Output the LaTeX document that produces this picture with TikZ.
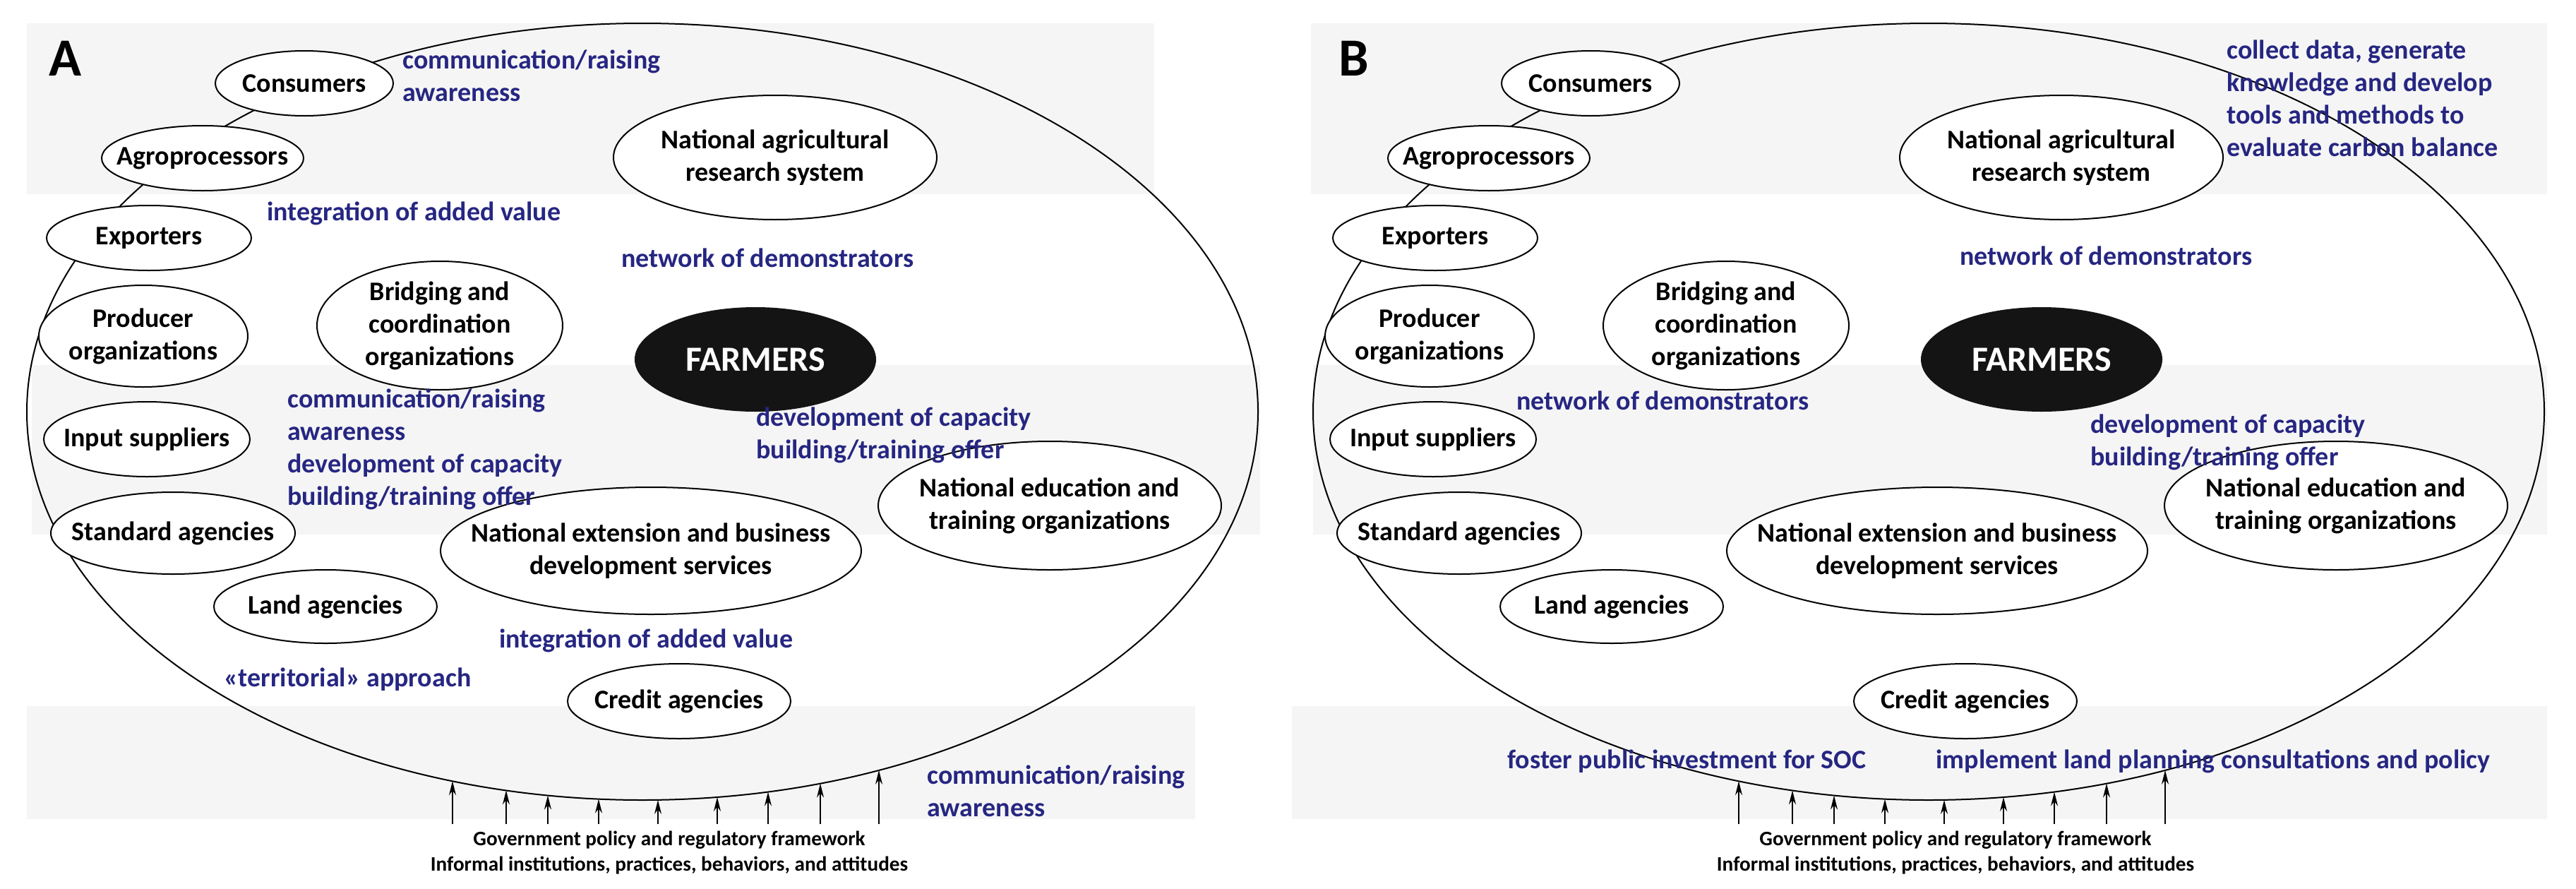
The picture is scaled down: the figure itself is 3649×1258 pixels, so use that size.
\documentclass[tikz,border=0pt]{standalone}
\usepackage{fontspec}
\setmainfont{Carlito}
\usetikzlibrary{shapes.geometric,arrows.meta}
\definecolor{bandgray}{RGB}{245,245,245}
\definecolor{navy}{RGB}{38,38,130}
\definecolor{farmfill}{RGB}{20,20,20}
\newcommand\blk[1]{\begin{tabular}[t]{@{}l@{}}#1\end{tabular}}
\newcommand\ctr[1]{\begin{tabular}[t]{@{}c@{}}#1\end{tabular}}
\tikzset{
  org/.style={ellipse, draw, fill=white, line width=1pt, inner sep=0pt},
  otxt/.style={font=\bfseries\fontsize{19}{23}\selectfont, align=center, inner sep=0pt},
  role/.style={font=\bfseries\fontsize{19}{23}\selectfont, text=navy, anchor=base west, inner sep=0pt},
  band/.style={fill=bandgray, draw=none},
  bigell/.style={ellipse, draw, line width=1pt, inner sep=0pt, minimum width=872pt, minimum height=550pt},
  farm/.style={ellipse, fill=farmfill, inner sep=0pt, text=white, font=\bfseries\fontsize{25}{30}\selectfont},
  pol/.style={-{Stealth[length=10pt,width=5pt]}, line width=0.8pt},
  ftext/.style={font=\bfseries\fontsize{14.6}{18}\selectfont, anchor=base, inner sep=0pt},
  plabel/.style={font=\bfseries\fontsize{38}{40}\selectfont, anchor=base west, inner sep=0pt},
}
\newcommand\drawpanel[1]{%
  \node[bigell] (#1outer) at (910,583) {};
  \node[org, minimum width=126pt, minimum height=46pt, label={[otxt]center:Consumers}] (#1cons) at (431,118) {};
  \node[org, minimum width=143pt, minimum height=46pt, label={[otxt]center:Agroprocessors}] (#1agro) at (287,224) {};
  \node[org, minimum width=145pt, minimum height=46pt, label={[otxt]center:Exporters}] (#1expo) at (211,337) {};
  \node[org, minimum width=148pt, minimum height=72pt, label={[otxt]center:{Producer\\organizations}}] (#1prod) at (203,476) {};
  \node[org, minimum width=174pt, minimum height=91pt, label={[otxt]center:{Bridging and\\coordination\\organizations}}] (#1brid) at (623,461) {};
  \node[org, minimum width=146pt, minimum height=53pt, label={[otxt]center:Input suppliers}] (#1input) at (208,622) {};
  \node[org, minimum width=173pt, minimum height=58pt, label={[otxt]center:Standard agencies}] (#1stand) at (245,755) {};
  \node[org, minimum width=158pt, minimum height=52pt, label={[otxt]center:Land agencies}] (#1land) at (461,859) {};
  \node[org, minimum width=158pt, minimum height=53pt, label={[otxt]center:Credit agencies}] (#1cred) at (962,993) {};
  \node[org, minimum width=298pt, minimum height=90pt, label={[otxt]center:{National extension and business\\development services}}] (#1ext) at (922,780) {};
  \node[org, minimum width=243pt, minimum height=91pt, label={[otxt]center:{National education and\\training organizations}}] (#1edu) at (1487,716) {};
  \node[org, minimum width=229pt, minimum height=88pt, label={[otxt]center:{National agricultural\\research system}}] (#1nars) at (1098,223) {};
  \node[farm, minimum width=171pt, minimum height=74pt] (#1farm) at (1070,509) {FARMERS};
  \foreach \ax [count=\i] in {641,717,776,848,932,1016,1088,1162,1245}{
    \coordinate (#1t\i) at (\ax,1167);
    \coordinate (#1h\i) at (\ax,{583+550*sqrt(1-((\ax-910)/872)^2)});
    \draw[pol] (#1t\i) -- (#1h\i);
  }
  \node[ftext] (#1gov) at (948,1197) {\ctr{Government policy and regulatory framework\\Informal institutions, practices, behaviors, and attitudes}};
}
\begin{document}
\begin{tikzpicture}[x=0.5pt,y=-0.5pt]
\useasboundingbox (0,0) rectangle (3649,1258);
\fill[white] (0,0) rectangle (3649,1258);
% background bands
\path[band] (38,33) rectangle (1635,275);
\path[band] (45,517) rectangle (1785,757);
\path[band] (38,1000) rectangle (1693,1160);
\path[band] (1857,33) rectangle (3608,275);
\path[band] (1860,517) rectangle (3608,757);
\path[band] (1830,1000) rectangle (3608,1160);
% panel A
\drawpanel{a}
\node[plabel] (labA) at (69,107) {A};
\node[role] (a1) at (570,97) {\blk{communication/raising\\awareness}};
\node[role] (a2) at (378,312) {integration of added value};
\node[role] (a3) at (880,378) {network of demonstrators};
\node[role] (a4) at (407,577) {\blk{communication/raising\\awareness\\development of capacity\\building/training offer}};
\node[role] (a5) at (1071,603) {\blk{development of capacity\\building/training offer}};
\node[role] (a6) at (707,917) {integration of added value};
\node[role] (a7) at (317,972) {«territorial» approach};
\node[role] (a8) at (1313,1110) {\blk{communication/raising\\awareness}};
% panel B
\begin{scope}[xshift=911pt]
\drawpanel{b}
\end{scope}
\node[plabel] (labB) at (1896,107) {B};
\node[role] (b1) at (3154,83) {\blk{collect data, generate\\knowledge and develop\\tools and methods to\\evaluate carbon balance}};
\node[role] (b2) at (2776,375) {network of demonstrators};
\node[role] (b3) at (2148,580) {network of demonstrators};
\node[role] (b4) at (2961,613) {\blk{development of capacity\\building/training offer}};
\node[role] (b5) at (2135,1088) {foster public investment for SOC};
\node[role] (b6) at (2742,1088) {implement land planning consultations and policy};
\end{tikzpicture}
\end{document}
